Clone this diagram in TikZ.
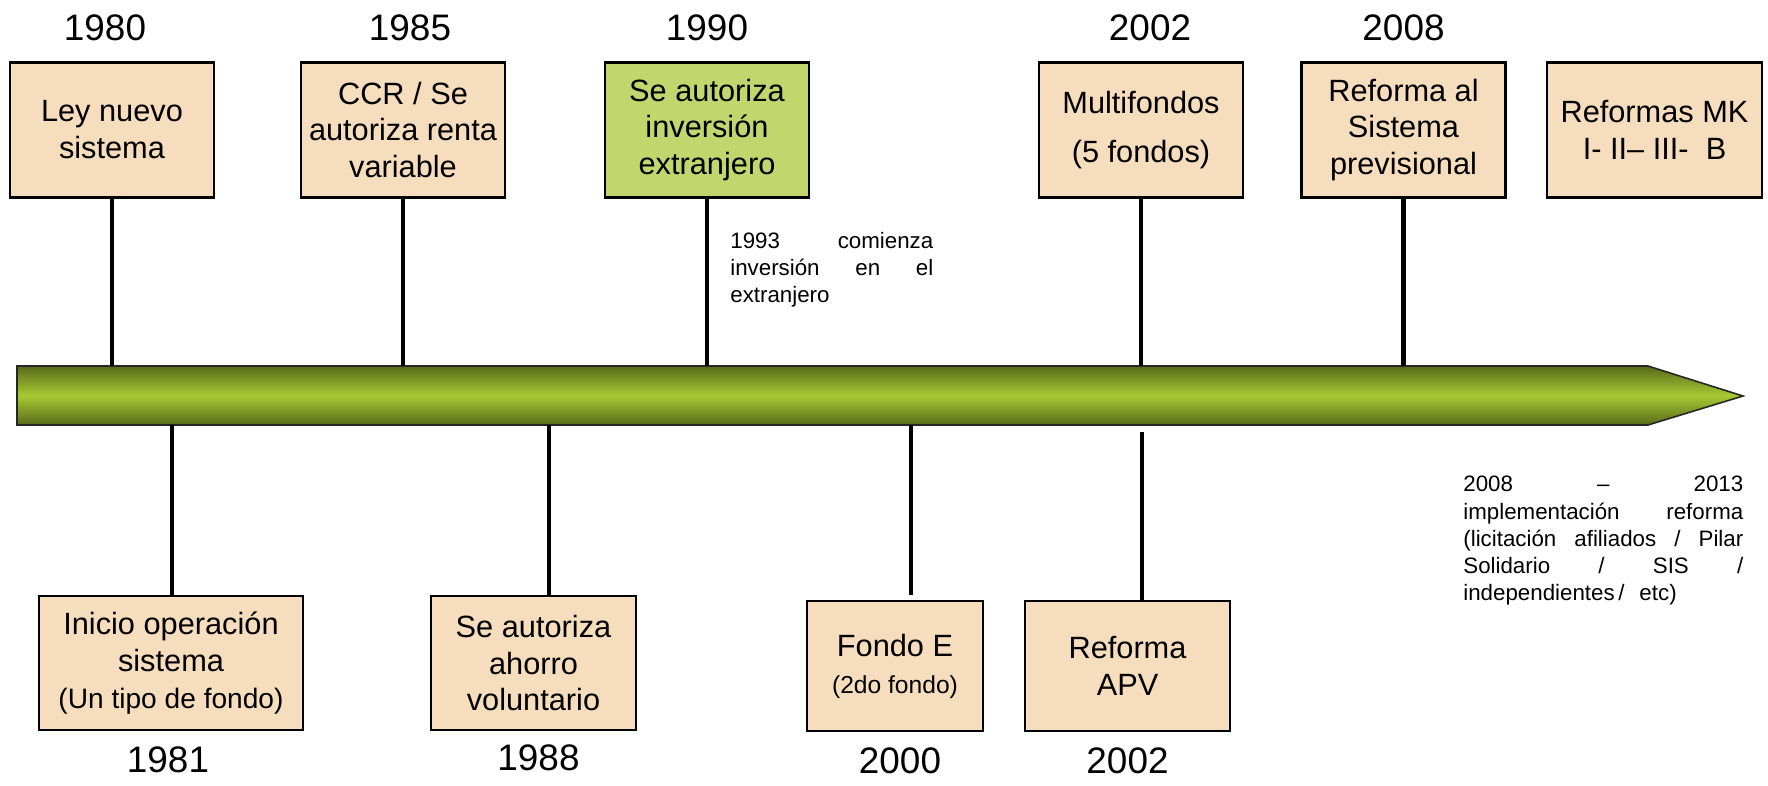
\documentclass[tikz,border=0pt]{standalone}
\usepackage{fontspec}
\setmainfont{Liberation Sans}
\usetikzlibrary{positioning}

\definecolor{peach}{RGB}{246,221,189}
\definecolor{lime}{RGB}{195,214,110}
\definecolor{olivedark}{RGB}{88,106,28}
\definecolor{olivelight}{RGB}{168,202,50}

\begin{document}
\begin{tikzpicture}[
    x=0.02cm, y=-0.02cm,
    node distance=0.42cm,
    event/.style={
        rectangle,
        draw,
        line width=1.4pt,
        fill=peach,
        minimum width=4.08cm,
        minimum height=2.7cm,
        align=center,
        inner sep=2pt,
        font=\fontsize{17.5}{21}\selectfont
    },
    year/.style={font=\fontsize{21}{24}\selectfont, inner sep=0pt},
    note/.style={
        font=\fontsize{12.7}{15.5}\selectfont,
        align=left,
        inner sep=0pt,
        anchor=north west
    },
    stem/.style={line width=2.6pt}
]
\useasboundingbox (0,0) rectangle (1768,785);

% Timeline bar
\coordinate (bartop) at (0,366);
\coordinate (barbot) at (0,425);
\shade[top color=olivedark, bottom color=olivedark, middle color=olivelight]
    (17,366) -- (1648,366) -- (1743,396) -- (1648,425) -- (17,425) -- cycle;
\draw[line width=0.9pt, black!85]
    (17,366) -- (1648,366) -- (1743,396) -- (1648,425) -- (17,425) -- cycle;

% Events above the bar
\node[event] (ley) at (112,130) {Ley nuevo\\sistema};
\node[event] (ccr) at (403,130) {CCR / Se\\autoriza renta\\variable};
\node[event, fill=lime] (extr) at (707,130) {Se autoriza\\inversión\\extranjero};
\node[event] (multi) at (1141,130) {Multifondos\\[7pt](5 fondos)};
\node[event] (prev) at (1403.5,130) {Reforma al\\Sistema\\previsional};
\node[event, minimum width=4.3cm] (mk) at (1654.5,130) {Reformas MK\\I- II-- III-~ B};

\node[year, above=0.4cm of ley, xshift=-0.14cm] {1980};
\node[year, above=0.4cm of ccr, xshift=0.14cm] {1985};
\node[year, above=0.4cm of extr] {1990};
\node[year, above=0.4cm of multi, xshift=0.18cm] {2002};
\node[year, above=0.4cm of prev] {2008};

% Events below the bar
\node[event, minimum width=5.28cm, minimum height=2.68cm] (inicio) at (171,663)
    {Inicio operación\\sistema\\{\fontsize{16}{19}\selectfont (Un tipo de fondo)}};
\node[event, minimum width=4.1cm, minimum height=2.68cm] (ahorro) at (533.5,663)
    {Se autoriza\\ahorro\\voluntario};
\node[event, minimum width=3.52cm, minimum height=2.6cm] (fondoe) at (895,666)
    {Fondo E\\{\fontsize{14}{17}\selectfont (2do fondo)}};
\node[event, minimum width=4.1cm, minimum height=2.6cm] (apv) at (1127.5,666)
    {Reforma\\APV};

\node[year, below=0.3cm of inicio, xshift=-0.06cm] {1981};
\node[year, below=0.26cm of ahorro, xshift=0.1cm] {1988};
\node[year, below=0.3cm of fondoe, xshift=0.1cm] {2000};
\node[year, below=0.3cm of apv] {2002};

% Stems
\draw[stem] (ley) -- (ley |- bartop);
\draw[stem] (ccr) -- (ccr |- bartop);
\draw[stem] (extr) -- (extr |- bartop);
\draw[stem] (multi) -- (multi |- bartop);
\draw[stem] (prev) -- (prev |- bartop);

\coordinate (s1) at (172,425);
\coordinate (s2) at (549,425);
\coordinate (s3) at (911,425);
\coordinate (s4) at (1142,425);
\draw[stem] (s1) -- (s1 |- inicio.north);
\draw[stem] (s2) -- (s2 |- ahorro.north);
\draw[stem, shorten >=0.1cm] (s3) -- (s3 |- fondoe.north);
\draw[stem, shorten <=0.14cm] (s4) -- (s4 |- apv.north);

% Side notes
\node[note, text width=4.06cm] (n1993) at (730,232)
    {1993\hfill comienza\\inversión\hfill en\hfill el\\extranjero};
\node[note, text width=5.6cm] (n2008) at (1463,476)
    {2008\hfill --\hfill 2013\\implementación\hfill reforma\\(licitación\hfill afiliados\hfill /\hfill Pilar\\Solidario\hfill /\hfill SIS\hfill /\\independientes\,/\ \ etc)};

\end{tikzpicture}
\end{document}
